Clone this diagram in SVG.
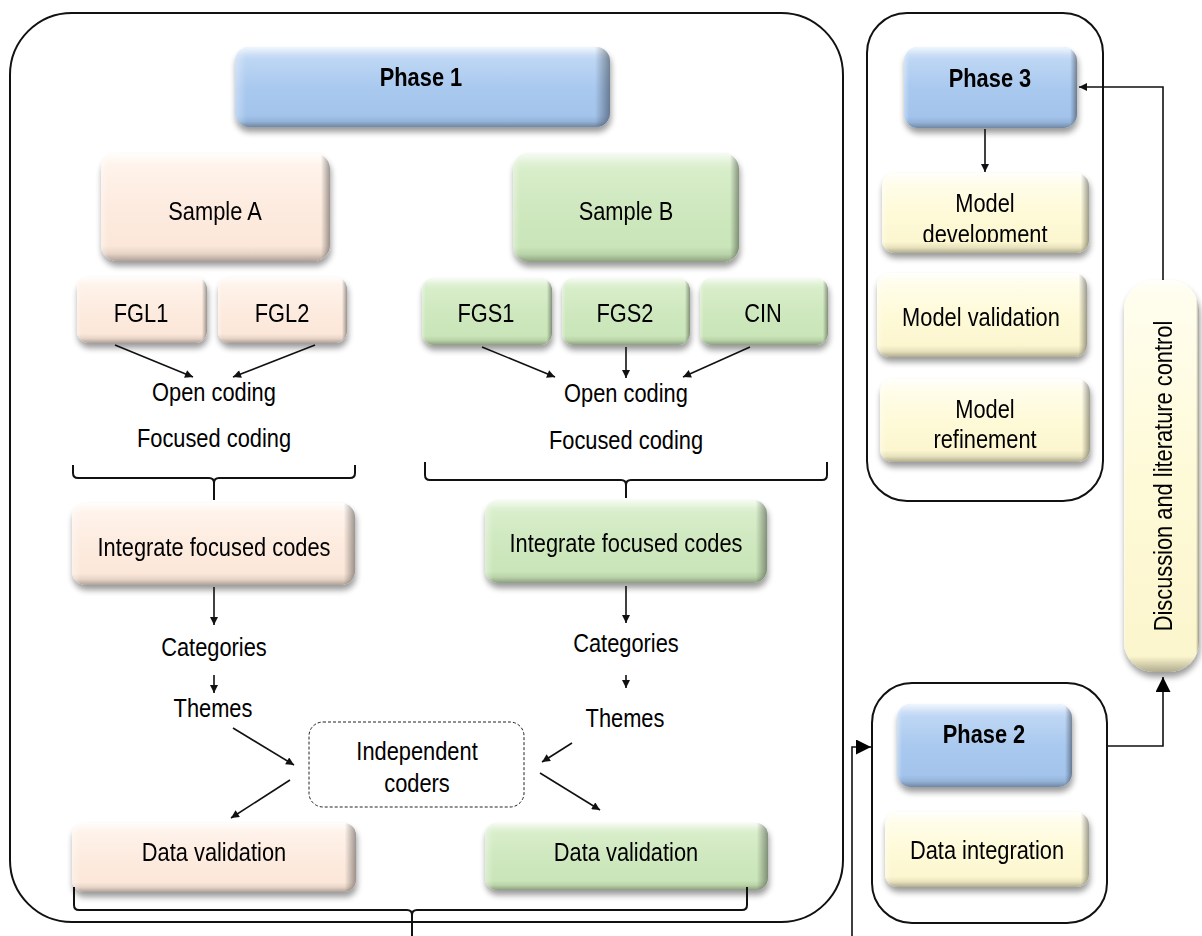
<svg xmlns="http://www.w3.org/2000/svg" width="1202" height="936" viewBox="0 0 1202 936">
  <style>
    text { font-family: "Liberation Sans", Arial, sans-serif; font-size: 26px; fill: #000; text-anchor: middle;
           transform-box: fill-box; transform-origin: center; transform: scaleX(0.84); }
    .b { font-weight: bold; }
    .frame { fill: none; stroke: #111; stroke-width: 2; }
    .box { filter: url(#shadow); }
    .blue { fill: url(#gBlue); }
    .peach { fill: url(#gPeach); }
    .green { fill: url(#gGreen); }
    .yellow { fill: url(#gYellow); }
    .bevV { fill: url(#bevV); }
    .bevH { fill: url(#bevH); }
    .conn { fill: none; stroke: #111; stroke-width: 1.6; }
    .arr { marker-end: url(#ah); }
    .big { marker-end: url(#ahBig); }
    .brace { fill: none; stroke: #111; stroke-width: 2; }
    .dash { fill: #fff; stroke: #222; stroke-width: 1; stroke-dasharray: 3 2; }
  </style>
  <defs>
    <filter id="shadow" x="-10%" y="-15%" width="125%" height="145%">
      <feGaussianBlur in="SourceAlpha" stdDeviation="3"/>
      <feOffset dx="1" dy="5" result="o"/>
      <feComponentTransfer><feFuncA type="linear" slope="0.4"/></feComponentTransfer>
      <feMerge><feMergeNode/><feMergeNode in="SourceGraphic"/></feMerge>
    </filter>
    <linearGradient id="gBlue" x1="0" y1="0" x2="0" y2="1">
      <stop offset="0" stop-color="#c6dcf6"/>
      <stop offset="0.5" stop-color="#aac9ef"/>
      <stop offset="1" stop-color="#a0c1ea"/>
    </linearGradient>
    <linearGradient id="gPeach" x1="0" y1="0" x2="0" y2="1">
      <stop offset="0" stop-color="#fff5ee"/>
      <stop offset="0.5" stop-color="#fdebdf"/>
      <stop offset="1" stop-color="#fbe6d8"/>
    </linearGradient>
    <linearGradient id="gGreen" x1="0" y1="0" x2="0" y2="1">
      <stop offset="0" stop-color="#dcf0cf"/>
      <stop offset="0.5" stop-color="#cfe8bf"/>
      <stop offset="1" stop-color="#c8e4b6"/>
    </linearGradient>
    <linearGradient id="gYellow" x1="0" y1="0" x2="0" y2="1">
      <stop offset="0" stop-color="#fffef0"/>
      <stop offset="0.5" stop-color="#fefad8"/>
      <stop offset="1" stop-color="#fbf5cc"/>
    </linearGradient>
    <!-- bevel shading: light top, dark bottom rim -->
    <linearGradient id="bevV" x1="0" y1="0" x2="0" y2="1">
      <stop offset="0" stop-color="#fff" stop-opacity="0.75"/>
      <stop offset="0.1" stop-color="#fff" stop-opacity="0.15"/>
      <stop offset="0.16" stop-color="#fff" stop-opacity="0"/>
      <stop offset="0.86" stop-color="#000" stop-opacity="0"/>
      <stop offset="0.93" stop-color="#000" stop-opacity="0.08"/>
      <stop offset="1" stop-color="#000" stop-opacity="0.3"/>
    </linearGradient>
    <linearGradient id="bevH" x1="0" y1="0" x2="1" y2="0">
      <stop offset="0" stop-color="#fff" stop-opacity="0.35"/>
      <stop offset="0.03" stop-color="#fff" stop-opacity="0"/>
      <stop offset="0.96" stop-color="#000" stop-opacity="0"/>
      <stop offset="1" stop-color="#000" stop-opacity="0.38"/>
    </linearGradient>
    <!-- tall pill: rim shading in absolute units so the top stays narrow -->
    <linearGradient id="bevPill" x1="0" y1="280" x2="0" y2="672" gradientUnits="userSpaceOnUse">
      <stop offset="0" stop-color="#fff" stop-opacity="0.7"/>
      <stop offset="0.03" stop-color="#fff" stop-opacity="0"/>
      <stop offset="0.96" stop-color="#000" stop-opacity="0"/>
      <stop offset="1" stop-color="#000" stop-opacity="0.3"/>
    </linearGradient>
    <marker id="ah" viewBox="0 0 10 10" refX="10" refY="5" markerWidth="9" markerHeight="8" markerUnits="userSpaceOnUse" orient="auto">
      <path d="M0,0 L10,5 L0,10 z" fill="#111"/>
    </marker>
    <marker id="ahBig" viewBox="0 0 10 10" refX="10" refY="5" markerWidth="15" markerHeight="15" markerUnits="userSpaceOnUse" orient="auto">
      <path d="M0,0 L10,5 L0,10 z" fill="#000"/>
    </marker>
    <clipPath id="clipDev"><rect x="880" y="170" width="212" height="72"/></clipPath>
  </defs>

  <rect width="1202" height="936" fill="#fff"/>

  <!-- phase containers -->
  <g id="phase1-frame"><rect class="frame" x="10" y="13" width="833" height="909" rx="62" ry="62"/></g>
  <g id="phase3-frame"><rect class="frame" x="867" y="13" width="236" height="488" rx="40" ry="40"/></g>
  <g id="phase2-frame"><rect class="frame" x="872" y="683" width="235" height="240" rx="40" ry="40"/></g>

  <!-- Phase 1 -->
  <g id="phase1" class="box">
    <rect class="blue" x="235" y="47" width="375" height="80" rx="14"/>
    <rect class="bevV" x="235" y="47" width="375" height="80" rx="14"/>
    <rect class="bevH" x="235" y="47" width="375" height="80" rx="14"/>
    <text class="b" x="421" y="86">Phase 1</text>
  </g>

  <g id="sampleA" class="box">
    <rect class="peach" x="101" y="153" width="229" height="108" rx="16"/>
    <rect class="bevV" x="101" y="153" width="229" height="108" rx="16"/>
    <rect class="bevH" x="101" y="153" width="229" height="108" rx="16"/>
    <text x="215" y="220">Sample A</text>
  </g>
  <g id="sampleB" class="box">
    <rect class="green" x="513" y="153" width="226" height="109" rx="16"/>
    <rect class="bevV" x="513" y="153" width="226" height="109" rx="16"/>
    <rect class="bevH" x="513" y="153" width="226" height="109" rx="16"/>
    <text x="626" y="220">Sample B</text>
  </g>

  <g id="fgl1" class="box">
    <rect class="peach" x="77" y="277" width="130" height="66" rx="12"/>
    <rect class="bevV" x="77" y="277" width="130" height="66" rx="12"/>
    <rect class="bevH" x="77" y="277" width="130" height="66" rx="12"/>
    <text x="141" y="322">FGL1</text>
  </g>
  <g id="fgl2" class="box">
    <rect class="peach" x="218" y="277" width="129" height="66" rx="12"/>
    <rect class="bevV" x="218" y="277" width="129" height="66" rx="12"/>
    <rect class="bevH" x="218" y="277" width="129" height="66" rx="12"/>
    <text x="282" y="322">FGL2</text>
  </g>
  <g id="fgs1" class="box">
    <rect class="green" x="422" y="278" width="130" height="67" rx="12"/>
    <rect class="bevV" x="422" y="278" width="130" height="67" rx="12"/>
    <rect class="bevH" x="422" y="278" width="130" height="67" rx="12"/>
    <text x="486" y="322">FGS1</text>
  </g>
  <g id="fgs2" class="box">
    <rect class="green" x="562" y="278" width="128" height="67" rx="12"/>
    <rect class="bevV" x="562" y="278" width="128" height="67" rx="12"/>
    <rect class="bevH" x="562" y="278" width="128" height="67" rx="12"/>
    <text x="625" y="322">FGS2</text>
  </g>
  <g id="cin" class="box">
    <rect class="green" x="700" y="278" width="128" height="67" rx="12"/>
    <rect class="bevV" x="700" y="278" width="128" height="67" rx="12"/>
    <rect class="bevH" x="700" y="278" width="128" height="67" rx="12"/>
    <text x="763" y="322">CIN</text>
  </g>

  <g id="openA"><text x="214" y="401">Open coding</text></g>
  <g id="focusedA"><text x="214" y="447">Focused coding</text></g>
  <g id="openB"><text x="626" y="402">Open coding</text></g>
  <g id="focusedB"><text x="626" y="449">Focused coding</text></g>

  <g id="integrateA" class="box">
    <rect class="peach" x="72" y="503" width="283" height="82" rx="14"/>
    <rect class="bevV" x="72" y="503" width="283" height="82" rx="14"/>
    <rect class="bevH" x="72" y="503" width="283" height="82" rx="14"/>
    <text x="214" y="556">Integrate focused codes</text>
  </g>
  <g id="integrateB" class="box">
    <rect class="green" x="485" y="500" width="282" height="83" rx="14"/>
    <rect class="bevV" x="485" y="500" width="282" height="83" rx="14"/>
    <rect class="bevH" x="485" y="500" width="282" height="83" rx="14"/>
    <text x="626" y="552">Integrate focused codes</text>
  </g>

  <g id="categoriesA"><text x="214" y="656">Categories</text></g>
  <g id="themesA"><text x="213" y="717">Themes</text></g>
  <g id="categoriesB"><text x="626" y="652">Categories</text></g>
  <g id="themesB"><text x="625" y="727">Themes</text></g>

  <g id="independent-coders">
    <rect class="dash" x="309" y="722" width="215" height="85" rx="14"/>
    <text x="417" y="760">Independent</text>
    <text x="417" y="792">coders</text>
  </g>

  <g id="validationA" class="box">
    <rect class="peach" x="72" y="823" width="284" height="69" rx="12"/>
    <rect class="bevV" x="72" y="823" width="284" height="69" rx="12"/>
    <rect class="bevH" x="72" y="823" width="284" height="69" rx="12"/>
    <text x="214" y="861">Data validation</text>
  </g>
  <g id="validationB" class="box">
    <rect class="green" x="485" y="823" width="283" height="67" rx="12"/>
    <rect class="bevV" x="485" y="823" width="283" height="67" rx="12"/>
    <rect class="bevH" x="485" y="823" width="283" height="67" rx="12"/>
    <text x="626" y="861">Data validation</text>
  </g>

  <!-- Phase 3 -->
  <g id="phase3" class="box">
    <rect class="blue" x="904" y="47" width="173" height="81" rx="14"/>
    <rect class="bevV" x="904" y="47" width="173" height="81" rx="14"/>
    <rect class="bevH" x="904" y="47" width="173" height="81" rx="14"/>
    <text class="b" x="990" y="87">Phase 3</text>
  </g>
  <g id="model-development" class="box">
    <rect class="yellow" x="882" y="173" width="207" height="80" rx="13"/>
    <rect class="bevV" x="882" y="173" width="207" height="80" rx="13"/>
    <rect class="bevH" x="882" y="173" width="207" height="80" rx="13"/>
    <g clip-path="url(#clipDev)">
      <text x="985" y="212">Model</text>
      <text x="985" y="243">development</text>
    </g>
  </g>
  <g id="model-validation" class="box">
    <rect class="yellow" x="877" y="273" width="210" height="84" rx="13"/>
    <rect class="bevV" x="877" y="273" width="210" height="84" rx="13"/>
    <rect class="bevH" x="877" y="273" width="210" height="84" rx="13"/>
    <text x="981" y="326">Model validation</text>
  </g>
  <g id="model-refinement" class="box">
    <rect class="yellow" x="880" y="379" width="210" height="83" rx="13"/>
    <rect class="bevV" x="880" y="379" width="210" height="83" rx="13"/>
    <rect class="bevH" x="880" y="379" width="210" height="83" rx="13"/>
    <text x="985" y="418">Model</text>
    <text x="985" y="448">refinement</text>
  </g>

  <!-- Phase 2 -->
  <g id="phase2" class="box">
    <rect class="blue" x="897" y="704" width="175" height="83" rx="14"/>
    <rect class="bevV" x="897" y="704" width="175" height="83" rx="14"/>
    <rect class="bevH" x="897" y="704" width="175" height="83" rx="14"/>
    <text class="b" x="984" y="743">Phase 2</text>
  </g>
  <g id="data-integration" class="box">
    <rect class="yellow" x="885" y="812" width="204" height="75" rx="13"/>
    <rect class="bevV" x="885" y="812" width="204" height="75" rx="13"/>
    <rect class="bevH" x="885" y="812" width="204" height="75" rx="13"/>
    <text x="987" y="859">Data integration</text>
  </g>

  <g id="discussion" class="box">
    <rect class="yellow" x="1124" y="280" width="75" height="392" rx="30"/>
    <rect fill="url(#bevPill)" x="1124" y="280" width="75" height="392" rx="30"/>
    <rect class="bevH" x="1124" y="280" width="75" height="392" rx="30"/>
    <g transform="translate(1172,476) rotate(-90)">
      <text x="0" y="0">Discussion and literature control</text>
    </g>
  </g>

  <!-- connectors -->
  <g id="connectors">
    <line class="conn arr" x1="115" y1="345" x2="193" y2="377"/>
    <line class="conn arr" x1="315" y1="345" x2="233" y2="377"/>
    <line class="conn arr" x1="482" y1="347" x2="555" y2="377"/>
    <line class="conn arr" x1="626" y1="347" x2="626" y2="378"/>
    <line class="conn arr" x1="750" y1="347" x2="683" y2="377"/>

    <path class="brace" d="M73,465 L73,473 Q73,478 78,478 L209,478 Q214,478 214,483 L214,500 M214,483 Q214,478 219,478 L350,478 Q355,478 355,473 L355,465"/>
    <path class="brace" d="M425,462 L425,475 Q425,480 430,480 L621,480 Q626,480 626,485 L626,498 M626,485 Q626,480 631,480 L822,480 Q827,480 827,475 L827,462"/>

    <line class="conn arr" x1="214" y1="587" x2="214" y2="625"/>
    <line class="conn arr" x1="214" y1="675" x2="214" y2="693"/>
    <line class="conn arr" x1="626" y1="586" x2="626" y2="623"/>
    <line class="conn arr" x1="626" y1="675" x2="626" y2="688"/>

    <line class="conn arr" x1="233" y1="728" x2="294" y2="765"/>
    <line class="conn arr" x1="290" y1="780" x2="231" y2="818"/>
    <line class="conn arr" x1="572" y1="743" x2="542" y2="762"/>
    <line class="conn arr" x1="540" y1="773" x2="600" y2="810"/>

    <path class="brace" d="M74,887 L74,905 Q74,910 79,910 L407,910 Q412,910 412,915 L412,936 M412,915 Q412,910 417,910 L742,910 Q747,910 747,905 L747,887"/>

    <line class="conn arr" x1="985" y1="129" x2="985" y2="172"/>
    <polyline class="conn arr" points="1163,280 1163,87 1079,87"/>
    <polyline class="conn big" points="1107,746 1163,746 1163,677"/>
    <polyline class="conn big" points="852,936 852,747 871,747"/>
  </g>
</svg>
